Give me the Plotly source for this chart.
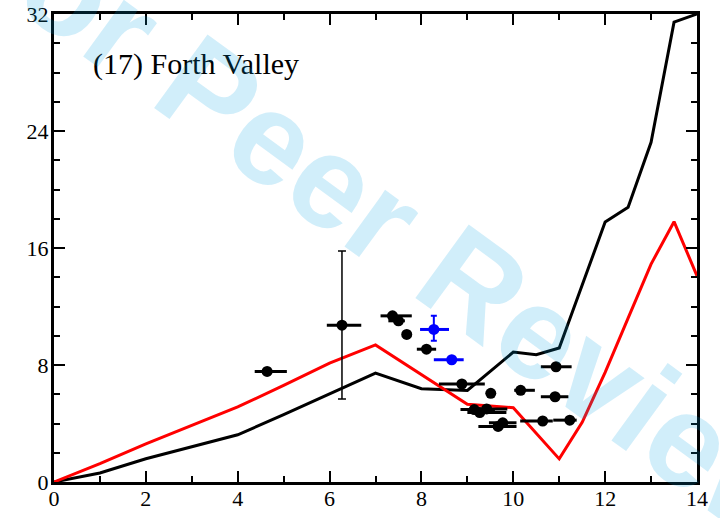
import plotly.graph_objects as go

# model curves
black_x = [0, 1, 2, 3, 4, 5, 6, 7, 8, 9, 10, 10.5, 11, 12, 12.5, 13, 13.5, 14]
black_y = [0, 0.62, 1.59, 2.39, 3.23, 4.6, 6.0, 7.45, 6.38, 6.26, 8.88, 8.7, 9.16, 17.77, 18.79, 23.23, 31.44, 32]

red_x = [0, 1, 2, 3, 4, 5, 6, 7, 8, 9, 10, 11, 11.5, 12, 12.5, 13, 13.5, 14]
red_y = [0, 1.25, 2.6, 3.87, 5.13, 6.6, 8.13, 9.37, 7.35, 5.32, 5.08, 1.58, 4.08, 7.5, 11.2, 14.9, 17.8, 14.1]

# black data points with horizontal error bars
pts_x = [4.64, 7.37, 7.50, 7.68, 8.11, 8.88, 9.51, 10.16, 9.15, 9.27, 9.42, 9.67, 9.77, 10.64, 11.23, 10.93, 10.91]
pts_y = [7.56, 11.36, 11.02, 10.09, 9.08, 6.70, 6.06, 6.27, 4.95, 4.75, 5.00, 3.80, 4.05, 4.17, 4.23, 7.88, 5.83]
pts_xm = [0.27, 0.26, 0.22, 0.0, 0.21, 0.50, 0.0, 0.14, 0.30, 0.27, 0.30, 0.43, 0.30, 0.49, 0.36, 0.33, 0.31]
pts_xp = [0.43, 0.42, 0.14, 0.0, 0.21, 0.50, 0.0, 0.31, 0.45, 0.58, 0.45, 0.40, 0.30, 0.22, 0.15, 0.34, 0.29]

# point with large vertical error
big_x = [6.27]
big_y = [10.72]
big_xm = [0.33]
big_xp = [0.42]
big_ym = [5.05]
big_yp = [5.07]

# blue points
blue_x = [8.27, 8.66]
blue_y = [10.43, 8.36]
blue_xm = [0.30, 0.39]
blue_xp = [0.33, 0.26]
blue_ym = [0.77, 0.0]
blue_yp = [0.93, 0.0]

x_ticks = [0, 2, 4, 6, 8, 10, 12, 14]
y_ticks = [0, 8, 16, 24, 32]
panel_label = "(17) Forth Valley"
watermark = "For Peer Review"

fig = go.Figure()

fig.add_trace(go.Scatter(x=black_x, y=black_y, mode="lines",
                         line=dict(color="black", width=3), hoverinfo="skip"))
fig.add_trace(go.Scatter(x=red_x, y=red_y, mode="lines",
                         line=dict(color="#ff0000", width=3), hoverinfo="skip"))

fig.add_trace(go.Scatter(
    x=pts_x, y=pts_y, mode="markers",
    marker=dict(color="black", size=11),
    error_x=dict(type="data", symmetric=False, array=pts_xp, arrayminus=pts_xm,
                 color="black", thickness=3, width=0),
))

fig.add_trace(go.Scatter(
    x=big_x, y=big_y, mode="markers",
    marker=dict(color="black", size=11),
    error_x=dict(type="data", symmetric=False, array=big_xp, arrayminus=big_xm,
                 color="black", thickness=3, width=0),
    error_y=dict(type="data", symmetric=False, array=big_yp, arrayminus=big_ym,
                 color="black", thickness=1.5, width=4),
))

fig.add_trace(go.Scatter(
    x=blue_x, y=blue_y, mode="markers",
    marker=dict(color="#0000ff", size=11),
    error_x=dict(type="data", symmetric=False, array=blue_xp, arrayminus=blue_xm,
                 color="#0000ff", thickness=3, width=0),
    error_y=dict(type="data", symmetric=False, array=blue_yp, arrayminus=blue_ym,
                 color="#0000ff", thickness=2, width=3),
))

axis_common = dict(
    showline=True, linewidth=3, linecolor="black", mirror="ticks",
    ticks="inside", ticklen=11, tickwidth=1.5, tickcolor="black",
    showgrid=False, zeroline=False, automargin=False, ticklabeloverflow="allow",
    tickfont=dict(family="Liberation Serif, Times New Roman, serif", size=22, color="black"),
)

fig.update_xaxes(range=[0, 14], tickvals=x_ticks, ticktext=[str(v) for v in x_ticks],
                 ticklabelstandoff=-5,
                 minor=dict(dtick=1, ticks="inside", ticklen=6, tickwidth=1.5, tickcolor="black"),
                 **axis_common)
fig.update_yaxes(range=[0, 32], tickvals=y_ticks, ticktext=[str(v) for v in y_ticks],
                 ticklabelstandoff=-2,
                 minor=dict(dtick=2, ticks="inside", ticklen=6, tickwidth=1.5, tickcolor="black"),
                 **axis_common)

fig.add_annotation(x=0.81, y=28.6, xref="x", yref="y", text=panel_label, showarrow=False,
                   xanchor="left", yanchor="middle",
                   font=dict(family="Liberation Serif, Times New Roman, serif", size=30, color="black"))

fig.add_annotation(x=0.519, y=0.557, xref="paper", yref="paper", text="<b>" + watermark + "</b>",
                   showarrow=False, textangle=36, xanchor="center", yanchor="middle",
                   font=dict(family="Liberation Sans, Arial, sans-serif", size=132,
                             color="rgba(0,160,230,0.18)"))

fig.update_layout(
    width=720, height=518,
    margin=dict(l=54, r=23, t=14, b=36, autoexpand=False),
    paper_bgcolor="white", plot_bgcolor="white",
    showlegend=False,
)

fig.write_html("out.html", config={"displayModeBar": False},
               post_script="document.body.style.margin='0';")
